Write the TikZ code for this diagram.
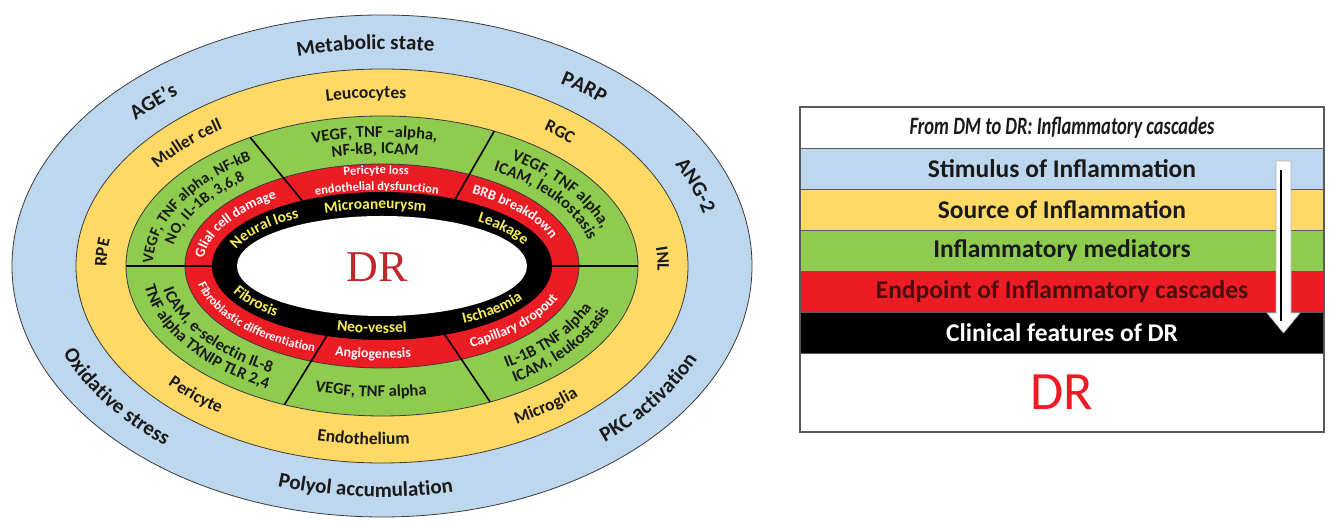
\documentclass[tikz,border=0pt]{standalone}
\usepackage{fontspec}
\setmainfont{Carlito}
\newfontfamily\serifdr{Liberation Serif}
\newfontfamily\titlefont[FakeStretch=0.74]{Carlito}
\usetikzlibrary{decorations.text,calc}
\definecolor{bandblue}{HTML}{BDD7EE}
\definecolor{bandyellow}{HTML}{FFD966}
\definecolor{bandgreen}{HTML}{8FCB4F}
\definecolor{bandred}{HTML}{EC1C24}
\definecolor{txtyellow}{HTML}{F7EE55}
\definecolor{drred}{HTML}{C1272D}
\definecolor{edgecol}{HTML}{3A3A3A}
\definecolor{inktext}{HTML}{1A1A1A}
\definecolor{maroontext}{HTML}{4A0E0E}
\newcommand\fblue{\bfseries\fontsize{21}{24}\selectfont\color{inktext}}
\newcommand\fyel{\bfseries\fontsize{17.5}{20}\selectfont\color{inktext}}
\newcommand\fgrn{\bfseries\fontsize{16.5}{19}\selectfont\color{inktext}}
\newcommand\fgrns{\bfseries\fontsize{15.5}{18}\selectfont\color{inktext}}
\newcommand\fredsm{\bfseries\fontsize{12.5}{14}\selectfont\color{white}}
\newcommand\fredl{\bfseries\fontsize{14}{16}\selectfont\color{white}}
\newcommand\fredf{\bfseries\fontsize{12.5}{14}\selectfont\color{white}}
\newcommand\fblk{\bfseries\fontsize{15.5}{18}\selectfont\color{txtyellow}}
% #1 rx, #2 ry, #3 start angle, #4 end angle, #5 format, #6 text
\newcommand\bandtext[6]{\path[shift={(C)},decorate,decoration={text along path,text align=center,text={|#5|#6}}] (#3:#1pt and #2pt) arc[start angle=#3,end angle=#4,x radius=#1pt,y radius=#2pt];}
\tikzset{
  ring/.style={draw=edgecol,line width=0.8pt},
  divider/.style={draw=black,line width=1.6pt},
  legrow/.style={rectangle,minimum width=524pt,minimum height=41pt,inner sep=0pt,draw=gray!70!black,line width=0.8pt,font=\bfseries\fontsize{25.5}{28}\selectfont,text=inktext}
}
\begin{document}
\begin{tikzpicture}[x=1pt,y=1pt]
\useasboundingbox (0,0) rectangle (1331,521);
\fill[white] (0,0) rectangle (1331,521);
\coordinate (C) at (382,255);
% rings
\fill[bandblue,ring] (C) ellipse [x radius=370pt,y radius=251pt];
\fill[bandyellow,ring] (C) ellipse [x radius=306pt,y radius=197pt];
\fill[bandgreen,ring] (C) ellipse [x radius=256pt,y radius=150pt];
\fill[bandred,ring] (C) ellipse [x radius=197pt,y radius=102pt];
\fill[black] (C) ellipse [x radius=170pt,y radius=74pt];
\fill[white] (C) ellipse [x radius=145pt,y radius=50pt];
% dividers
\foreach \i/\a/\b in {1/121/118,2/64/64.5,3/180/180,4/0/0,5/247.6/251,6/295/291.7}{
  \coordinate (do\i) at ($(C)+(\a:256pt and 150pt)$);
  \coordinate (di\i) at ($(C)+(\b:170pt and 74pt)$);
  \draw[divider] (do\i) -- (di\i);
}
% blue band
\bandtext{331}{217}{118}{68}{\fblue}{Metabolic state}
\bandtext{331}{217}{152}{116}{\fblue}{AGE’s}
\bandtext{331}{217}{70}{34}{\fblue}{PARP}
\bandtext{331}{217}{38}{2}{\fblue}{ANG-2}
\bandtext{345}{231}{188}{242}{\fblue}{Oxidative stress}
\bandtext{345}{231}{237}{297}{\fblue}{Polyol accumulation}
\bandtext{345}{231}{298}{352}{\fblue}{PKC activation}
% yellow band
\bandtext{275.5}{168}{118}{69}{\fyel}{Leucocytes}
\bandtext{275.5}{168}{162}{112}{\fyel}{Muller cell}
\bandtext{275.5}{168}{69}{29}{\fyel}{RGC}
\bandtext{275.5}{168}{22}{-18}{\fyel}{INL}
\bandtext{275.5}{168}{196}{156}{\fyel}{RPE}
\bandtext{286.5}{179}{205}{249}{\fyel}{Pericyte}
\bandtext{286.5}{179}{240}{292}{\fyel}{Endothelium}
\bandtext{286.5}{179}{285}{329}{\fyel}{Microglia}
% green band
\bandtext{229}{129}{120}{64}{\fgrn}{VEGF, TNF –alpha,}
\bandtext{212}{112}{120}{64}{\fgrn}{NF-kB, ICAM}
\bandtext{229}{129}{196}{114}{\fgrns}{VEGF, TNF alpha,  NF-kB}
\bandtext{212}{112}{196}{114}{\fgrns}{NO, IL-1B, 3,6,8}
\bandtext{229}{129}{66}{0}{\fgrn}{VEGF, TNF alpha,}
\bandtext{212}{112}{66}{0}{\fgrn}{ICAM, leukostasis}
\bandtext{223}{123}{178}{248}{\fgrn}{ICAM, e-selectin  IL-8}
\bandtext{240}{140}{178}{248}{\fgrn}{TNF alpha  TXNIP TLR 2,4}
\bandtext{231}{131}{240}{294}{\fgrn}{VEGF, TNF alpha}
\bandtext{223}{123}{294}{356}{\fgrn}{IL-1B TNF alpha}
\bandtext{240}{140}{294}{356}{\fgrn}{ICAM, leukostasis}
% red band
\bandtext{187.5}{92}{122}{62}{\fredsm}{Pericyte loss}
\bandtext{171.5}{76}{125}{59}{\fredsm}{endothelial dysfunction}
\bandtext{179}{83.5}{186}{120}{\fredl}{Glial cell damage}
\bandtext{179}{83.5}{68}{4}{\fredl}{BRB breakdown}
\bandtext{188}{92.5}{178}{256}{\fredf}{Fibroblastic differentiation}
\bandtext{188}{92.5}{240}{294}{\fredl}{Angiogenesis}
\bandtext{188}{92.5}{290}{354}{\fredl}{Capillary dropout}
% black band
\bandtext{152.5}{57}{130}{56}{\fblk}{Microaneurysm}
\bandtext{152.5}{57}{178}{116}{\fblk}{Neural loss}
\bandtext{152.5}{57}{60}{4}{\fblk}{Leakage}
\bandtext{162.5}{67}{188}{238}{\fblk}{Fibrosis}
\bandtext{162.5}{67}{238}{294}{\fblk}{Neo-vessel}
\bandtext{162.5}{67}{292}{344}{\fblk}{Ischaemia}
% centre
\node[text=drred,font=\serifdr\fontsize{44}{48}\selectfont] (dr) at (377,254) {DR};
% legend
\node[legrow,fill=white,font=\titlefont\bfseries\itshape\fontsize{25}{28}\selectfont] (lt) at (1062,393.5) {From DM to DR: Inflammatory cascades};
\node[legrow,fill=bandblue] (l1) at (1062,352.5) {Stimulus of Inflammation};
\node[legrow,fill=bandyellow] (l2) at (1062,311.5) {Source of Inflammation};
\node[legrow,fill=bandgreen] (l3) at (1062,270.5) {Inflammatory mediators};
\node[legrow,fill=bandred,text=maroontext] (l4) at (1062,229.5) {Endpoint of Inflammatory cascades};
\node[legrow,fill=black,text=white] (l5) at (1062,188.5) {Clinical features of DR};
\node[legrow,fill=white,minimum height=79pt,text=bandred,font=\fontsize{54}{58}\selectfont] (l6) at (1062,128.5) {DR};
\draw[gray!70!black,line width=1.2pt] (800,89) rectangle (1324,414);
% arrow
\draw[fill=white,draw=gray!60,line width=0.6pt] (1276,360) -- (1291,360) -- (1291,208) -- (1300,208) -- (1283.5,188) -- (1267,208) -- (1276,208) -- cycle;
\draw[black,line width=2pt] (1281,351) -- (1281,200);
\end{tikzpicture}
\end{document}
